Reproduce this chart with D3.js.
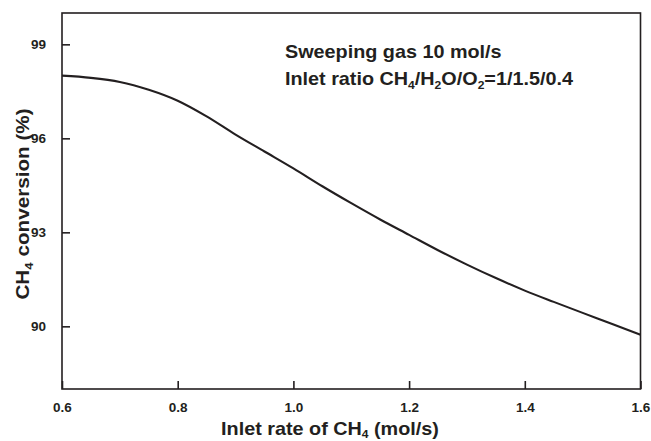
<!DOCTYPE html>
<html>
<head>
<meta charset="utf-8">
<script src="https://cdn.jsdelivr.net/npm/d3@7"></script>
<style>
  html, body { margin: 0; padding: 0; background: #fff; }
  svg text { font-family: "Liberation Sans", Arial, Helvetica, sans-serif; font-weight: bold; fill: #231f20; }
</style>
</head>
<body>
<svg id="chart" width="651" height="441"></svg>
<script>
// CH4 inlet rate (mol/s) and resulting CH4 conversion (%)
const inletRate = [0.60, 0.65, 0.70, 0.75, 0.80, 0.85, 0.90, 0.95, 1.00, 1.05, 1.10,
                   1.15, 1.20, 1.25, 1.30, 1.35, 1.40, 1.45, 1.50, 1.55, 1.60];
const conversion = [98.00, 97.93, 97.80, 97.55, 97.20, 96.70, 96.12, 95.58, 95.04, 94.47, 93.93,
                    93.41, 92.92, 92.43, 91.97, 91.54, 91.14, 90.78, 90.43, 90.08, 89.73];
const xTicks = [0.6, 0.8, 1.0, 1.2, 1.4, 1.6];
const yTicks = [90, 93, 96, 99];

const svg = d3.select("#chart");
const margin = { left: 62, top: 13, right: 10.5, bottom: 52 };
const W = 651, H = 441;
const ink = "#231f20";
const stretch = 1.1;   // slightly wide lettering for the titles and note

const x = d3.scaleLinear().domain([0.6, 1.6]).range([margin.left, W - margin.right]);
const y = d3.scaleLinear().domain([88, 100]).range([H - margin.bottom, margin.top]);

// frame
svg.append("rect")
  .attr("x", x(0.6)).attr("y", y(100))
  .attr("width", x(1.6) - x(0.6)).attr("height", y(88) - y(100))
  .attr("fill", "none").attr("stroke", ink).attr("stroke-width", 1.6);

// bottom axis, ticks pointing inward
const xAxis = svg.append("g")
  .attr("transform", `translate(0,${y(88)})`)
  .call(d3.axisBottom(x).tickValues(xTicks).tickSize(-8).tickPadding(13)
        .tickFormat(d3.format(".1f")));
xAxis.select(".domain").remove();
xAxis.selectAll(".tick line").attr("stroke", ink).attr("stroke-width", 1.6);
xAxis.selectAll(".tick text").attr("font-size", 13.5).attr("fill", ink);

// left axis, ticks pointing inward
const yAxis = svg.append("g")
  .attr("transform", `translate(${x(0.6)},0)`)
  .call(d3.axisLeft(y).tickValues(yTicks).tickSize(-8).tickPadding(16)
        .tickFormat(d3.format("d")));
yAxis.select(".domain").remove();
yAxis.selectAll(".tick line").attr("stroke", ink).attr("stroke-width", 1.6);
yAxis.selectAll(".tick text").attr("font-size", 13.5).attr("fill", ink);

// conversion curve
const line = d3.line()
  .x((d, i) => x(inletRate[i]))
  .y(d => y(d))
  .curve(d3.curveMonotoneX);
svg.append("path")
  .datum(conversion)
  .attr("d", line)
  .attr("fill", "none")
  .attr("stroke", ink)
  .attr("stroke-width", 2.1);

// add a text run with a lowered subscript
function withSub(sel, parts, subSize, shift) {
  parts.forEach(p => {
    if (p.sub) {
      sel.append("tspan").attr("font-size", subSize).attr("dy", shift).text(p.sub);
    } else {
      sel.append("tspan").attr("dy", p.back ? -shift : 0).text(p.t);
    }
  });
}

// annotation
const note = svg.append("g").attr("font-size", 18);
note.append("text")
  .attr("transform", `translate(285,58) scale(${stretch},1)`)
  .text("Sweeping gas 10 mol/s");
const l2 = note.append("text").attr("transform", `translate(285,85) scale(${stretch},1)`);
withSub(l2, [{ t: "Inlet ratio CH" }, { sub: "4" }, { t: "/H", back: true }, { sub: "2" },
             { t: "O/O", back: true }, { sub: "2" }, { t: "=1/1.5/0.4", back: true }], 11, 4);

// x-axis title
const xt = svg.append("text")
  .attr("transform", `translate(330,434.5) scale(${stretch},1)`)
  .attr("text-anchor", "middle").attr("font-size", 18);
withSub(xt, [{ t: "Inlet rate of CH" }, { sub: "4" }, { t: " (mol/s)", back: true }], 11, 3);

// y-axis title
const yt = svg.append("text")
  .attr("transform", `translate(29,204) rotate(-90) scale(1.15,1)`)
  .attr("text-anchor", "middle").attr("font-size", 18);
withSub(yt, [{ t: "CH" }, { sub: "4" }, { t: " conversion (%)", back: true }], 11.5, 4);
</script>
</body>
</html>
